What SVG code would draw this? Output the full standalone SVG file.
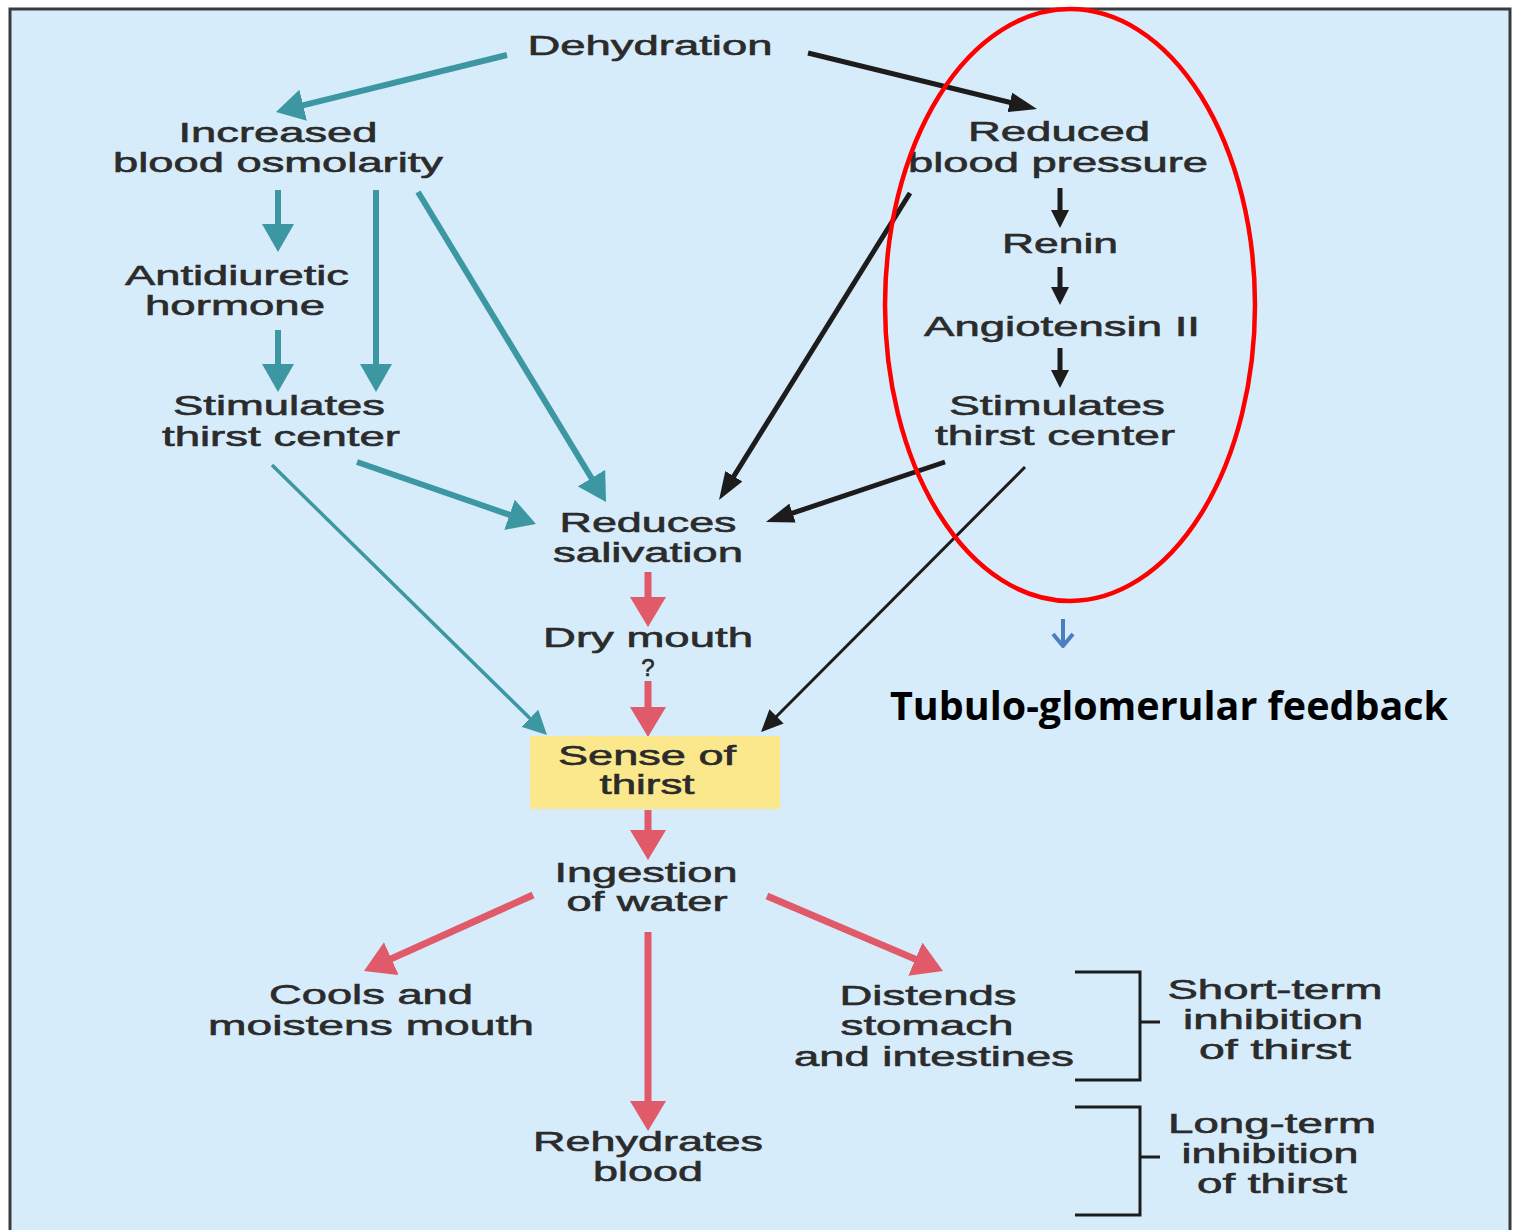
<svg xmlns="http://www.w3.org/2000/svg" width="1517" height="1230" viewBox="0 0 1517 1230">
<defs>
<style>
.t{font-family:"Liberation Sans",Arial,sans-serif;font-size:28px;fill:#2b2b2b;stroke:#2b2b2b;stroke-width:0.6px;text-anchor:middle}
.teal{stroke:#3d97a2;stroke-width:6;fill:none}
.tealthin{stroke:#3d97a2;stroke-width:3.5;fill:none}
.blk{stroke:#1c1c1c;stroke-width:5;fill:none}
.blkthin{stroke:#1c1c1c;stroke-width:3;fill:none}
.red{stroke:#e05a6a;stroke-width:7;fill:none}
</style>
<marker id="mTeal" markerUnits="userSpaceOnUse" viewBox="0 0 28 32" markerWidth="28" markerHeight="32" refX="11" refY="16" orient="auto"><path d="M0,0 L28,16 L0,32 z" fill="#3d97a2"/></marker>
<marker id="mTealThin" markerUnits="userSpaceOnUse" viewBox="0 0 24 24" markerWidth="24" markerHeight="24" refX="10" refY="12" orient="auto"><path d="M0,0 L24,12 L0,24 z" fill="#3d97a2"/></marker>
<marker id="mBlk" markerUnits="userSpaceOnUse" viewBox="0 0 28 20" markerWidth="28" markerHeight="20" refX="11" refY="10" orient="auto"><path d="M0,0 L28,10 L0,20 z" fill="#1c1c1c"/></marker>
<marker id="mBlkSmall" markerUnits="userSpaceOnUse" viewBox="0 0 18 18" markerWidth="18" markerHeight="18" refX="7" refY="9" orient="auto"><path d="M0,0 L18,9 L0,18 z" fill="#1c1c1c"/></marker>
<marker id="mBlkThin" markerUnits="userSpaceOnUse" viewBox="0 0 22 20" markerWidth="22" markerHeight="20" refX="9" refY="10" orient="auto"><path d="M0,0 L22,10 L0,20 z" fill="#1c1c1c"/></marker>
<marker id="mRed" markerUnits="userSpaceOnUse" viewBox="0 0 30 36" markerWidth="30" markerHeight="36" refX="12" refY="18" orient="auto"><path d="M0,0 L30,18 L0,36 z" fill="#e05a6a"/></marker>
</defs>
<rect x="0" y="0" width="1517" height="1230" fill="#ffffff"/>
<rect id="frame" x="10" y="9" width="1500" height="1240" fill="#d6ecfa" stroke="#3a3a3a" stroke-width="3"/>

<g id="connectors">
<line class="teal" x1="507" y1="55" x2="292.5" y2="107.9" marker-end="url(#mTeal)"/>
<line class="teal" x1="278" y1="190" x2="278" y2="235" marker-end="url(#mTeal)"/>
<line class="teal" x1="278" y1="330" x2="278" y2="375" marker-end="url(#mTeal)"/>
<line class="teal" x1="376" y1="190" x2="376" y2="375" marker-end="url(#mTeal)"/>
<line class="teal" x1="418" y1="192" x2="597.2" y2="487.5" marker-end="url(#mTeal)"/>
<line class="teal" x1="357" y1="462" x2="519.9" y2="518.4" marker-end="url(#mTeal)"/>
<line class="tealthin" x1="272" y1="465" x2="537" y2="725.2" marker-end="url(#mTealThin)"/>

<line class="blk" x1="808" y1="53" x2="1020.5" y2="105" marker-end="url(#mBlk)"/>
<line class="blk" x1="910" y1="193" x2="728" y2="485.6" marker-end="url(#mBlk)"/>
<line class="blk" x1="945" y1="462" x2="782.1" y2="516.6" marker-end="url(#mBlk)"/>
<line class="blkthin" x1="1025" y1="467" x2="770.2" y2="722.8" marker-end="url(#mBlkThin)"/>
<line class="blk" x1="1060" y1="188" x2="1060" y2="217" marker-end="url(#mBlkSmall)"/>
<line class="blk" x1="1060" y1="267" x2="1060" y2="294" marker-end="url(#mBlkSmall)"/>
<line class="blk" x1="1060" y1="348" x2="1060" y2="377" marker-end="url(#mBlkSmall)"/>

<line class="red" x1="648" y1="572" x2="648" y2="609" marker-end="url(#mRed)"/>
<line class="red" x1="648" y1="681" x2="648" y2="719" marker-end="url(#mRed)"/>
<line class="red" x1="648" y1="810" x2="648" y2="842" marker-end="url(#mRed)"/>
<line class="red" x1="533" y1="895" x2="380.4" y2="963.6" marker-end="url(#mRed)"/>
<line class="red" x1="767" y1="896" x2="926.4" y2="963.9" marker-end="url(#mRed)"/>
<line class="red" x1="648" y1="932" x2="648" y2="1113" marker-end="url(#mRed)"/>

<path d="M1075,972 H1140 V1080 H1075 M1140,1022 H1160" fill="none" stroke="#1c1c1c" stroke-width="3"/>
<path d="M1075,1107 H1140 V1215 H1075 M1140,1157 H1160" fill="none" stroke="#1c1c1c" stroke-width="3"/>

<path d="M1063,619 V645 M1053,634 L1063,646 L1073,634" fill="none" stroke="#4a7ebf" stroke-width="4" stroke-linejoin="round"/>
</g>

<g id="n-dehydration"><text class="t" x="650" y="55" textLength="245" lengthAdjust="spacingAndGlyphs">Dehydration</text></g>
<g id="n-osmolarity"><text class="t" x="278" y="142" textLength="199" lengthAdjust="spacingAndGlyphs">Increased</text><text class="t" x="278" y="172" textLength="330" lengthAdjust="spacingAndGlyphs">blood osmolarity</text></g>
<g id="n-adh"><text class="t" x="237" y="285" textLength="224" lengthAdjust="spacingAndGlyphs">Antidiuretic</text><text class="t" x="235" y="315" textLength="180" lengthAdjust="spacingAndGlyphs">hormone</text></g>
<g id="n-thirst-left"><text class="t" x="279" y="415" textLength="212" lengthAdjust="spacingAndGlyphs">Stimulates</text><text class="t" x="281" y="446" textLength="238" lengthAdjust="spacingAndGlyphs">thirst center</text></g>
<g id="n-bp"><text class="t" x="1059" y="141" textLength="182" lengthAdjust="spacingAndGlyphs">Reduced</text><text class="t" x="1058" y="172" textLength="300" lengthAdjust="spacingAndGlyphs">blood pressure</text></g>
<g id="n-renin"><text class="t" x="1060" y="253" textLength="116" lengthAdjust="spacingAndGlyphs">Renin</text></g>
<g id="n-angio"><text class="t" x="1062" y="336" textLength="276" lengthAdjust="spacingAndGlyphs">Angiotensin II</text></g>
<g id="n-thirst-right"><text class="t" x="1057" y="415" textLength="216" lengthAdjust="spacingAndGlyphs">Stimulates</text><text class="t" x="1055" y="445" textLength="240" lengthAdjust="spacingAndGlyphs">thirst center</text></g>
<g id="n-saliva"><text class="t" x="648" y="532" textLength="177" lengthAdjust="spacingAndGlyphs">Reduces</text><text class="t" x="648" y="562" textLength="190" lengthAdjust="spacingAndGlyphs">salivation</text></g>
<g id="n-drymouth"><text class="t" x="648" y="647" textLength="210" lengthAdjust="spacingAndGlyphs">Dry mouth</text><text class="t" x="648" y="676" style="font-size:24px">?</text></g>
<g id="n-sense"><rect x="530" y="736" width="250" height="73" fill="#fbe88c"/><text class="t" x="647" y="765" textLength="178" lengthAdjust="spacingAndGlyphs">Sense of</text><text class="t" x="647" y="794" textLength="95" lengthAdjust="spacingAndGlyphs">thirst</text></g>
<g id="n-ingestion"><text class="t" x="646" y="882" textLength="183" lengthAdjust="spacingAndGlyphs">Ingestion</text><text class="t" x="647" y="911" textLength="161" lengthAdjust="spacingAndGlyphs">of water</text></g>
<g id="n-cools"><text class="t" x="371" y="1004" textLength="204" lengthAdjust="spacingAndGlyphs">Cools and</text><text class="t" x="371" y="1035" textLength="326" lengthAdjust="spacingAndGlyphs">moistens mouth</text></g>
<g id="n-distends"><text class="t" x="928" y="1005" textLength="177" lengthAdjust="spacingAndGlyphs">Distends</text><text class="t" x="927" y="1035" textLength="173" lengthAdjust="spacingAndGlyphs">stomach</text><text class="t" x="934" y="1066" textLength="280" lengthAdjust="spacingAndGlyphs">and intestines</text></g>
<g id="n-rehydrates"><text class="t" x="648" y="1151" textLength="230" lengthAdjust="spacingAndGlyphs">Rehydrates</text><text class="t" x="648" y="1181" textLength="110" lengthAdjust="spacingAndGlyphs">blood</text></g>
<g id="n-short"><text class="t" x="1275" y="999" textLength="215" lengthAdjust="spacingAndGlyphs">Short-term</text><text class="t" x="1273" y="1029" textLength="180" lengthAdjust="spacingAndGlyphs">inhibition</text><text class="t" x="1275" y="1059" textLength="152" lengthAdjust="spacingAndGlyphs">of thirst</text></g>
<g id="n-long"><text class="t" x="1272" y="1133" textLength="208" lengthAdjust="spacingAndGlyphs">Long-term</text><text class="t" x="1270" y="1163" textLength="177" lengthAdjust="spacingAndGlyphs">inhibition</text><text class="t" x="1272" y="1193" textLength="150" lengthAdjust="spacingAndGlyphs">of thirst</text></g>

<g id="highlight"><ellipse cx="1070" cy="305" rx="185" ry="296" fill="none" stroke="#ff0000" stroke-width="4.5"/></g>
<g id="n-tgf"><text x="890" y="720" textLength="558" lengthAdjust="spacingAndGlyphs" style="font-family:'Open Sans','Noto Sans',sans-serif;font-weight:bold;font-size:40px;fill:#000">Tubulo-glomerular feedback</text></g>
</svg>
